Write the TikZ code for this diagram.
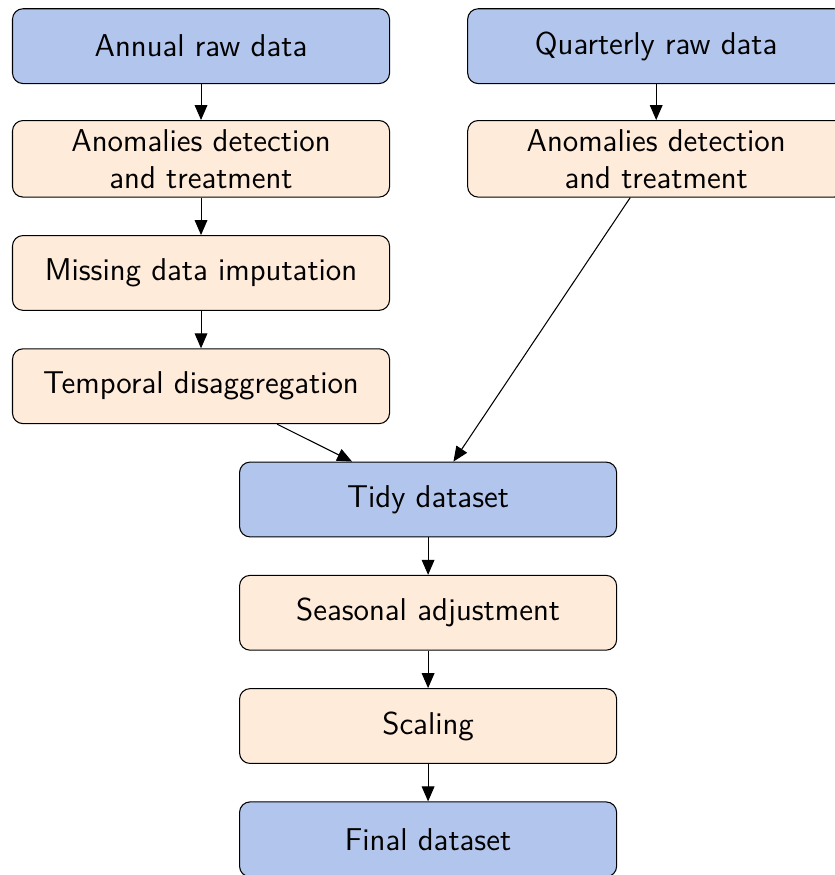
\documentclass[tikz,border=0pt]{standalone}
\usepackage{amsmath}
\usetikzlibrary{arrows.meta,positioning}
\definecolor{rawblue}{RGB}{178,198,237}
\definecolor{stepbeige}{RGB}{255,235,218}

\begin{document}
\begin{tikzpicture}[>={Triangle[length=2mm,width=1.7mm]}, font=\sffamily\large,
  datanode/.style={draw, rounded corners, fill=rawblue, minimum width=5.04cm, minimum height=1cm, align=center},
  procnode/.style={datanode, fill=stepbeige}]
\node[datanode] (annual) at (0,0) {Annual raw data};
\node[procnode, below=0.48cm of annual] (anomA) {Anomalies detection\\and treatment};
\node[procnode, below=0.5cm of anomA] (missing) {Missing data imputation};
\node[procnode, below=0.5cm of missing] (temporal) {Temporal disaggregation};
\node[datanode, right=1.03cm of annual] (quarterly) {Quarterly raw data};
\node[procnode, below=0.48cm of quarterly] (anomQ) {Anomalies detection\\and treatment};
\node[datanode, below=0.5cm of temporal, xshift=3.035cm] (tidy) {Tidy dataset};
\node[procnode, below=0.5cm of tidy] (seasonal) {Seasonal adjustment};
\node[procnode, below=0.5cm of seasonal] (scaling) {Scaling};
\node[datanode, below=0.5cm of scaling] (final) {Final dataset};
\draw[->] (annual) -- (anomA);
\draw[->] (anomA) -- (missing);
\draw[->] (missing) -- (temporal);
\draw[->] (quarterly) -- (anomQ);
\draw[->] (temporal) -- (tidy);
\draw[->] (anomQ) -- (tidy);
\draw[->] (tidy) -- (seasonal);
\draw[->] (seasonal) -- (scaling);
\draw[->] (scaling) -- (final);
\pgfresetboundingbox
\useasboundingbox ([shift={(-0.16,0.11)}]annual.north west) rectangle ([shift={(-0.14,0.03)}]quarterly.east |- final.south);
\end{tikzpicture}
\end{document}
